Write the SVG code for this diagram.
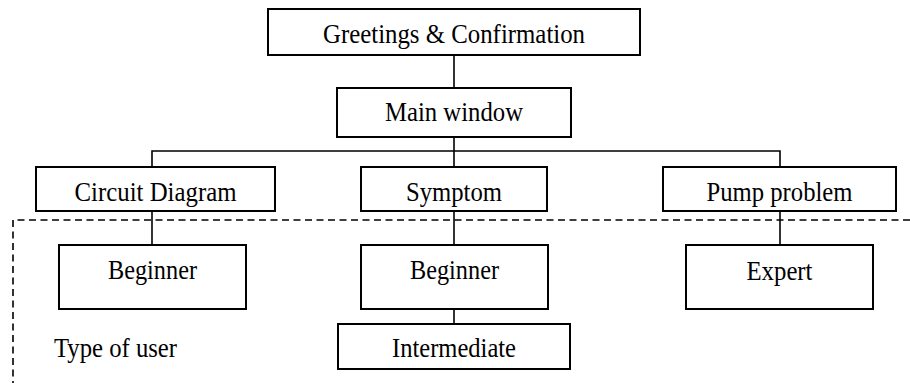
<svg xmlns="http://www.w3.org/2000/svg" width="910" height="383" viewBox="0 0 910 383">
<style>
.box{fill:#fff;stroke:#000;stroke-width:2}
.lbl{font-family:"Liberation Serif","Times New Roman",serif;font-size:27px;fill:#000;text-anchor:middle}
.free{font-family:"Liberation Serif","Times New Roman",serif;font-size:27px;fill:#000}
.con{fill:none;stroke:#000;stroke-width:1.6}
.dash{fill:none;stroke:#000;stroke-width:1.6;stroke-dasharray:7 4.5}
</style>
<rect width="910" height="383" fill="#fff"/>
<g id="connectors">
<line class="con" x1="454" y1="55" x2="454" y2="88"/>
<line class="con" x1="454" y1="137" x2="454" y2="167"/>
<polyline class="con" points="152,168 152,151 780,151 780,168"/>
<line class="con" x1="152" y1="211" x2="152" y2="245"/>
<line class="con" x1="454" y1="211" x2="454" y2="245"/>
<line class="con" x1="780" y1="211" x2="780" y2="245"/>
<line class="con" x1="454" y1="309" x2="454" y2="324"/>
</g>
<g id="greetings"><rect class="box" x="268" y="9" width="372" height="46"/><text class="lbl" x="454" y="43" textLength="262" lengthAdjust="spacingAndGlyphs">Greetings &amp; Confirmation</text></g>
<g id="main"><rect class="box" x="337" y="88" width="234" height="49"/><text class="lbl" x="454" y="121" textLength="138" lengthAdjust="spacingAndGlyphs">Main window</text></g>
<g id="circuit"><rect class="box" x="36" y="167" width="239" height="44"/><text class="lbl" x="155.5" y="201" textLength="162" lengthAdjust="spacingAndGlyphs">Circuit Diagram</text></g>
<g id="symptom"><rect class="box" x="361" y="167" width="186" height="44"/><text class="lbl" x="454" y="201" textLength="96" lengthAdjust="spacingAndGlyphs">Symptom</text></g>
<g id="pump"><rect class="box" x="663" y="167" width="233" height="44"/><text class="lbl" x="779.5" y="201" textLength="146" lengthAdjust="spacingAndGlyphs">Pump problem</text></g>
<g id="user-area"><polyline class="dash" points="910,220 13,220 13,383"/><text class="free" x="54" y="357" textLength="123" lengthAdjust="spacingAndGlyphs">Type of user</text></g>
<g id="beginner1"><rect class="box" x="59" y="245" width="187" height="64"/><text class="lbl" x="152.5" y="279" textLength="89" lengthAdjust="spacingAndGlyphs">Beginner</text></g>
<g id="beginner2"><rect class="box" x="361" y="245" width="187" height="64"/><text class="lbl" x="454.5" y="279" textLength="89" lengthAdjust="spacingAndGlyphs">Beginner</text></g>
<g id="expert"><rect class="box" x="686" y="245" width="187" height="64"/><text class="lbl" x="779.5" y="280" textLength="66" lengthAdjust="spacingAndGlyphs">Expert</text></g>
<g id="intermediate"><rect class="box" x="338" y="324" width="232" height="45"/><text class="lbl" x="454" y="357" textLength="124" lengthAdjust="spacingAndGlyphs">Intermediate</text></g>
</svg>
